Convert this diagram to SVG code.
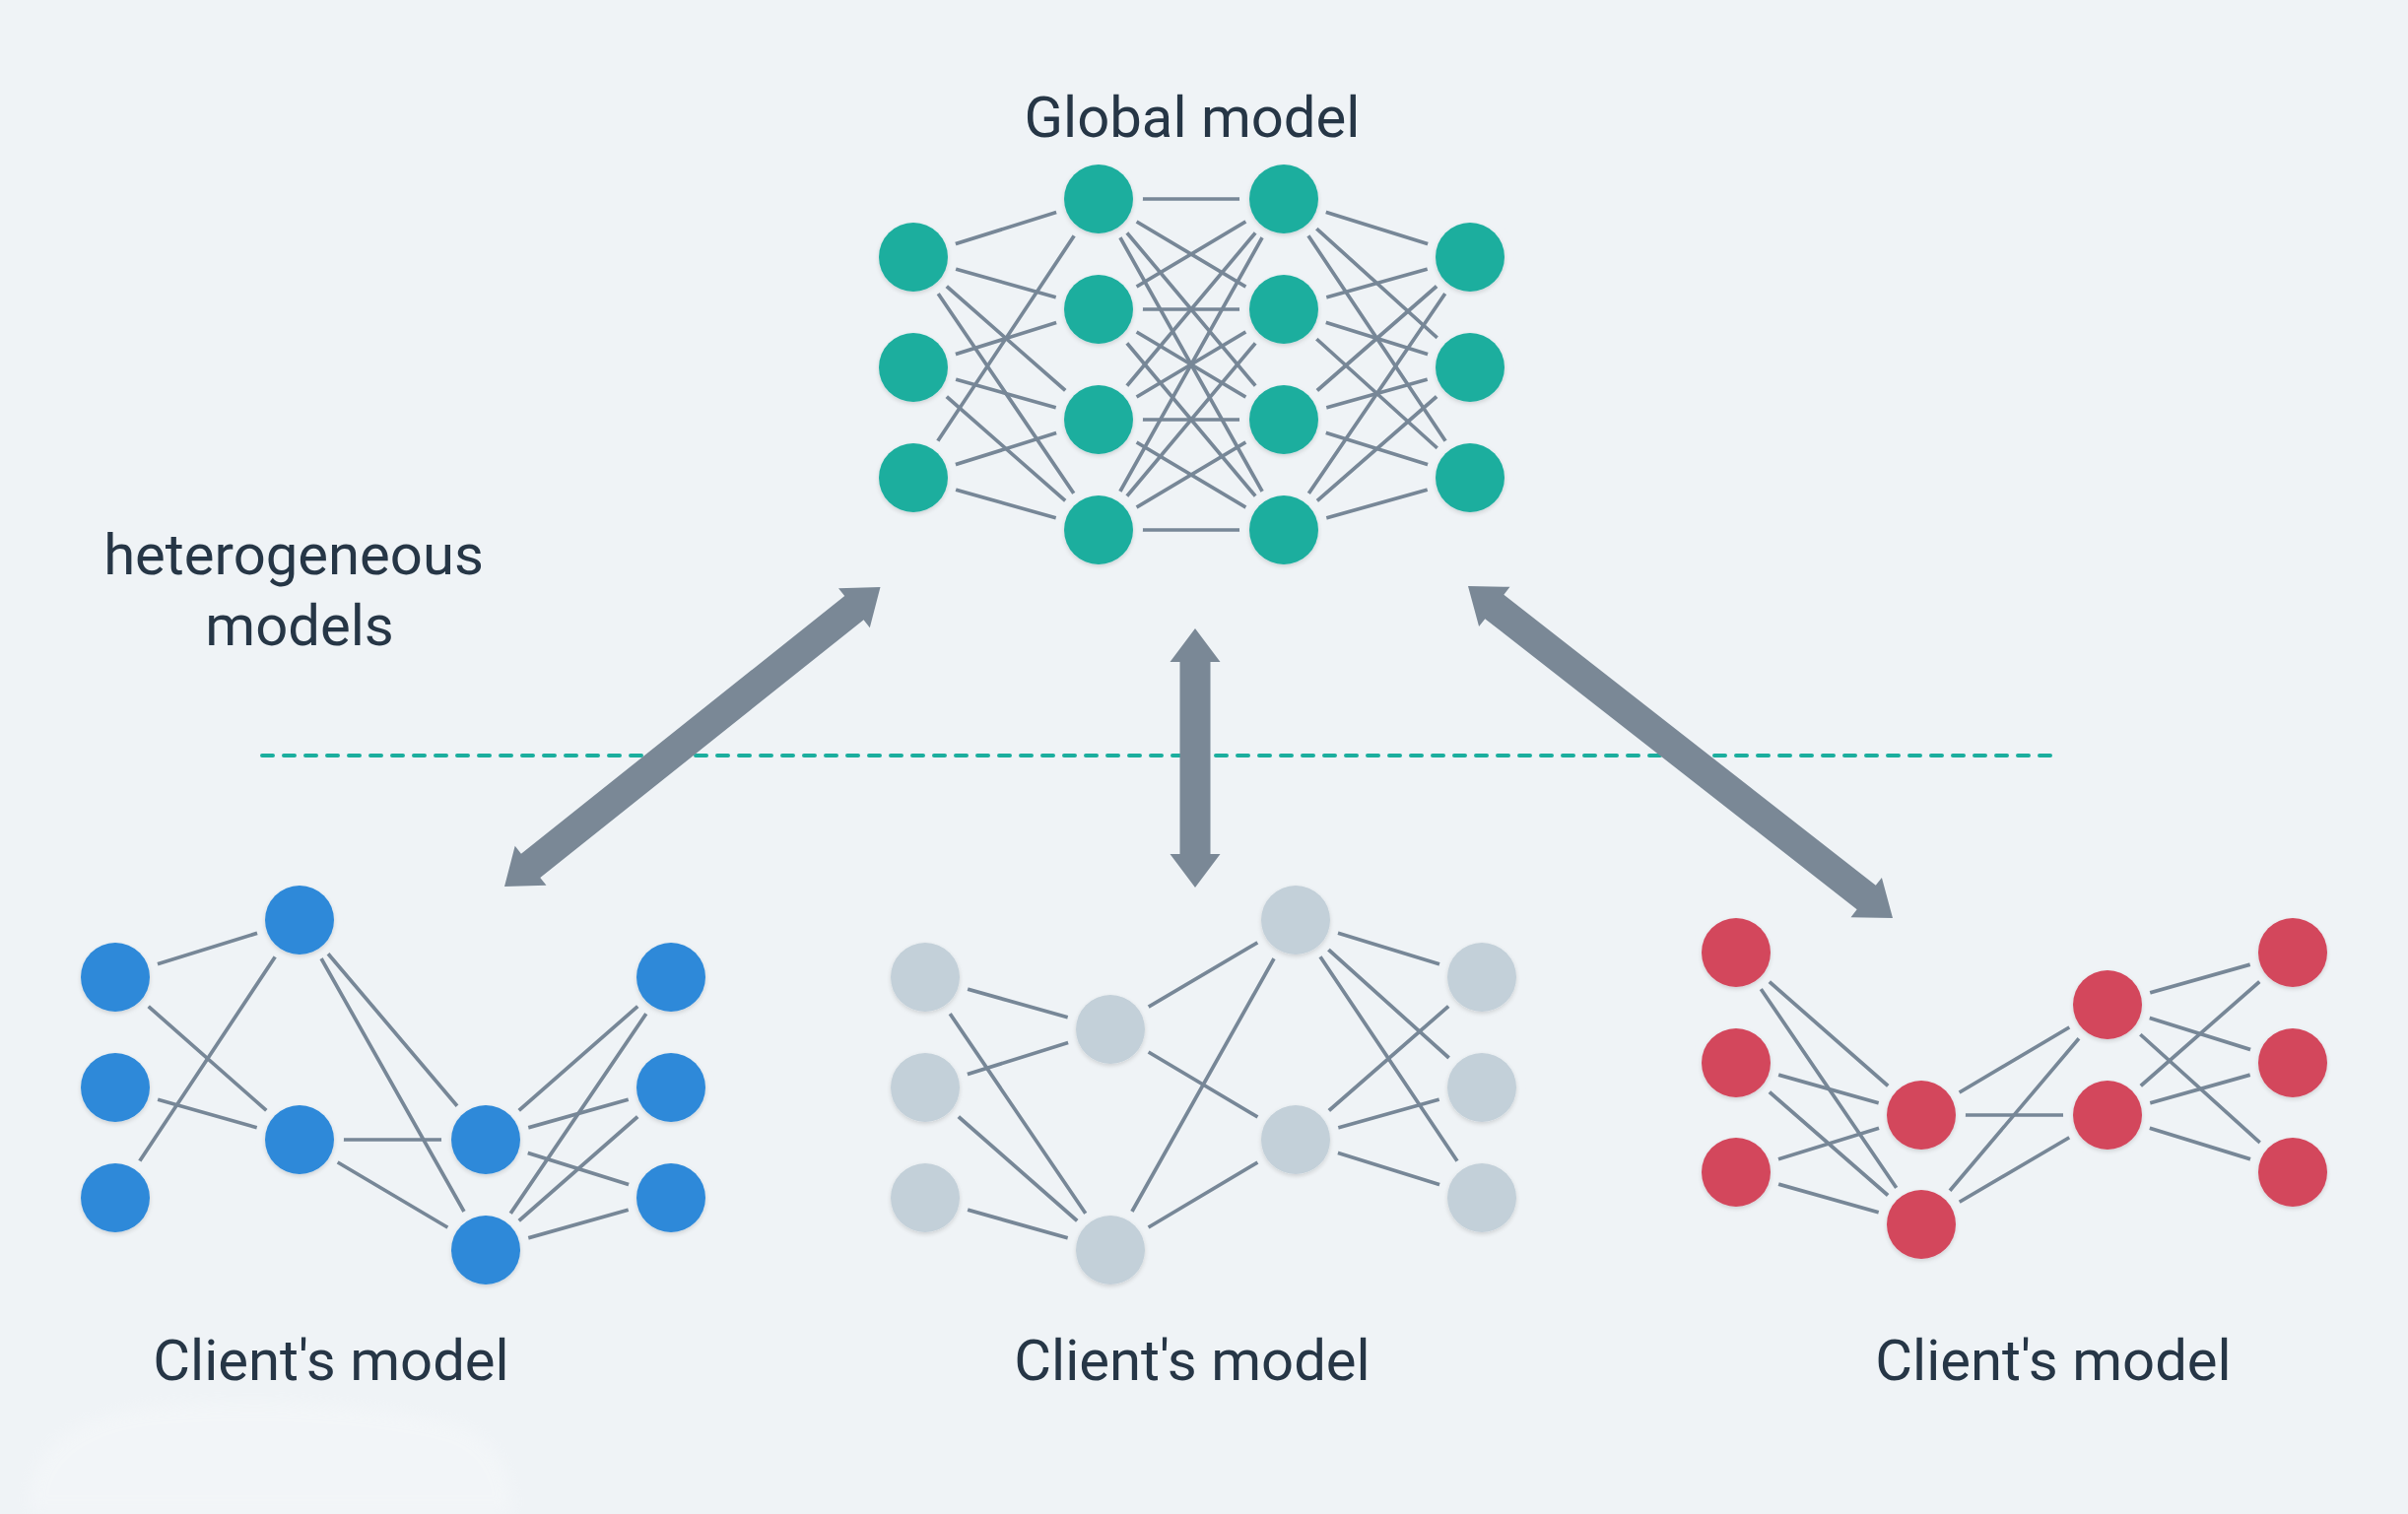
<svg xmlns="http://www.w3.org/2000/svg" xmlns:xlink="http://www.w3.org/1999/xlink" width="2444" height="1537" viewBox="0 0 2444 1537">
<defs>
<style>
.bg{fill:#eff3f6}
.e{stroke:#778797;stroke-width:3.7;stroke-linecap:round;fill:none}
.halo{fill:#eff3f6}
.n{filter:url(#sh)}
.teal{fill:#1bae9e}
.blue{fill:#2d89d9}
.grey{fill:#c3d0d9}
.red{fill:#d3465c}
.arrow{fill:#7a8896}
.lbl{font-family:Roboto,"Liberation Sans",sans-serif;font-size:58px;fill:#263646;text-anchor:middle}
.dash{stroke:#1bae9e;stroke-width:4;stroke-dasharray:11 11;stroke-linecap:round;fill:none}
</style>
<filter id="sh" x="-30%" y="-30%" width="160%" height="160%">
<feDropShadow dx="0" dy="2" stdDeviation="2" flood-color="#000" flood-opacity="0.14"/>
</filter>
<filter id="blur" x="-20%" y="-50%" width="140%" height="200%">
<feGaussianBlur stdDeviation="8"/>
</filter>
</defs>
<rect class="bg" x="0" y="0" width="2444" height="1537"/>
<path d="M30,1537 C25,1480 60,1440 150,1428 C260,1418 380,1425 460,1445 C510,1460 520,1500 520,1537 Z" fill="#ffffff" opacity="0.22" filter="url(#blur)"/>

<g id="labels">
<text class="lbl" x="1210" y="139">Global model</text>
<text class="lbl" x="298" y="583">heterogeneous</text>
<text class="lbl" x="304" y="655">models</text>
<text class="lbl" x="336" y="1401">Client's model</text>
<text class="lbl" x="1210" y="1401">Client's model</text>
<text class="lbl" x="2084" y="1401">Client's model</text>
</g>

<line id="divider" class="dash" x1="266" y1="767" x2="2085" y2="767"/>

<g id="connectors">
<g class="e">
<!-- global model: col1-col2 -->
<line x1="927" y1="261" x2="1115" y2="202"/>
<line x1="927" y1="261" x2="1115" y2="314"/>
<line x1="927" y1="261" x2="1115" y2="426"/>
<line x1="927" y1="261" x2="1115" y2="538"/>
<line x1="927" y1="373" x2="1115" y2="314"/>
<line x1="927" y1="373" x2="1115" y2="426"/>
<line x1="927" y1="373" x2="1115" y2="538"/>
<line x1="927" y1="485" x2="1115" y2="202"/>
<line x1="927" y1="485" x2="1115" y2="426"/>
<line x1="927" y1="485" x2="1115" y2="538"/>
<!-- col2-col3 -->
<line x1="1115" y1="202" x2="1303" y2="202"/>
<line x1="1115" y1="202" x2="1303" y2="314"/>
<line x1="1115" y1="202" x2="1303" y2="426"/>
<line x1="1115" y1="202" x2="1303" y2="538"/>
<line x1="1115" y1="314" x2="1303" y2="202"/>
<line x1="1115" y1="314" x2="1303" y2="314"/>
<line x1="1115" y1="314" x2="1303" y2="426"/>
<line x1="1115" y1="314" x2="1303" y2="538"/>
<line x1="1115" y1="426" x2="1303" y2="202"/>
<line x1="1115" y1="426" x2="1303" y2="314"/>
<line x1="1115" y1="426" x2="1303" y2="426"/>
<line x1="1115" y1="426" x2="1303" y2="538"/>
<line x1="1115" y1="538" x2="1303" y2="202"/>
<line x1="1115" y1="538" x2="1303" y2="314"/>
<line x1="1115" y1="538" x2="1303" y2="426"/>
<line x1="1115" y1="538" x2="1303" y2="538"/>
<!-- col3-col4 -->
<line x1="1303" y1="202" x2="1492" y2="261"/>
<line x1="1303" y1="202" x2="1492" y2="373"/>
<line x1="1303" y1="202" x2="1492" y2="485"/>
<line x1="1303" y1="314" x2="1492" y2="261"/>
<line x1="1303" y1="314" x2="1492" y2="373"/>
<line x1="1303" y1="314" x2="1492" y2="485"/>
<line x1="1303" y1="426" x2="1492" y2="261"/>
<line x1="1303" y1="426" x2="1492" y2="373"/>
<line x1="1303" y1="426" x2="1492" y2="485"/>
<line x1="1303" y1="538" x2="1492" y2="261"/>
<line x1="1303" y1="538" x2="1492" y2="373"/>
<line x1="1303" y1="538" x2="1492" y2="485"/>

<!-- blue client -->
<line x1="117" y1="992" x2="304" y2="934"/>
<line x1="117" y1="992" x2="304" y2="1157"/>
<line x1="117" y1="1104" x2="304" y2="1157"/>
<line x1="117" y1="1216" x2="304" y2="934"/>
<line x1="304" y1="934" x2="493" y2="1157"/>
<line x1="304" y1="934" x2="493" y2="1269"/>
<line x1="304" y1="1157" x2="493" y2="1157"/>
<line x1="304" y1="1157" x2="493" y2="1269"/>
<line x1="493" y1="1157" x2="681" y2="992"/>
<line x1="493" y1="1157" x2="681" y2="1104"/>
<line x1="493" y1="1157" x2="681" y2="1216"/>
<line x1="493" y1="1269" x2="681" y2="992"/>
<line x1="493" y1="1269" x2="681" y2="1104"/>
<line x1="493" y1="1269" x2="681" y2="1216"/>

<!-- grey client -->
<line x1="939" y1="992" x2="1127" y2="1045"/>
<line x1="939" y1="992" x2="1127" y2="1269"/>
<line x1="939" y1="1104" x2="1127" y2="1045"/>
<line x1="939" y1="1104" x2="1127" y2="1269"/>
<line x1="939" y1="1216" x2="1127" y2="1269"/>
<line x1="1127" y1="1045" x2="1315" y2="934"/>
<line x1="1127" y1="1045" x2="1315" y2="1157"/>
<line x1="1127" y1="1269" x2="1315" y2="934"/>
<line x1="1127" y1="1269" x2="1315" y2="1157"/>
<line x1="1315" y1="934" x2="1504" y2="992"/>
<line x1="1315" y1="934" x2="1504" y2="1104"/>
<line x1="1315" y1="934" x2="1504" y2="1216"/>
<line x1="1315" y1="1157" x2="1504" y2="992"/>
<line x1="1315" y1="1157" x2="1504" y2="1104"/>
<line x1="1315" y1="1157" x2="1504" y2="1216"/>

<!-- red client -->
<line x1="1762" y1="967" x2="1950" y2="1132"/>
<line x1="1762" y1="967" x2="1950" y2="1243"/>
<line x1="1762" y1="1079" x2="1950" y2="1132"/>
<line x1="1762" y1="1079" x2="1950" y2="1243"/>
<line x1="1762" y1="1190" x2="1950" y2="1132"/>
<line x1="1762" y1="1190" x2="1950" y2="1243"/>
<line x1="1950" y1="1132" x2="2139" y2="1020"/>
<line x1="1950" y1="1132" x2="2139" y2="1132"/>
<line x1="1950" y1="1243" x2="2139" y2="1020"/>
<line x1="1950" y1="1243" x2="2139" y2="1132"/>
<line x1="2139" y1="1020" x2="2327" y2="967"/>
<line x1="2139" y1="1020" x2="2327" y2="1079"/>
<line x1="2139" y1="1020" x2="2327" y2="1190"/>
<line x1="2139" y1="1132" x2="2327" y2="967"/>
<line x1="2139" y1="1132" x2="2327" y2="1079"/>
<line x1="2139" y1="1132" x2="2327" y2="1190"/>
</g>

<!-- exchange arrows -->
<polygon class="arrow" transform="translate(702.75,748) rotate(-38.55)" points="243.9,0 209.9,-25.5 209.9,-15.5 -209.9,-15.5 -209.9,-25.5 -243.9,0 -209.9,25.5 -209.9,15.5 209.9,15.5 209.9,25.5"/>
<polygon class="arrow" points="1213,638 1238.5,672 1228.5,672 1228.5,867 1238.5,867 1213,901 1187.5,867 1197.5,867 1197.5,672 1187.5,672"/>
<polygon class="arrow" transform="translate(1705.5,763.5) rotate(38.02)" points="273.55,0 239.55,-25.5 239.55,-15.5 -239.55,-15.5 -239.55,-25.5 -273.55,0 -239.55,25.5 -239.55,15.5 239.55,15.5 239.55,25.5"/>
</g>

<!-- global model nodes -->
<g id="g-1-1"><circle class="halo" cx="927" cy="261" r="45"/><circle class="n teal" cx="927" cy="261" r="35"/></g>
<g id="g-1-2"><circle class="halo" cx="927" cy="373" r="45"/><circle class="n teal" cx="927" cy="373" r="35"/></g>
<g id="g-1-3"><circle class="halo" cx="927" cy="485" r="45"/><circle class="n teal" cx="927" cy="485" r="35"/></g>
<g id="g-2-1"><circle class="halo" cx="1115" cy="202" r="45"/><circle class="n teal" cx="1115" cy="202" r="35"/></g>
<g id="g-2-2"><circle class="halo" cx="1115" cy="314" r="45"/><circle class="n teal" cx="1115" cy="314" r="35"/></g>
<g id="g-2-3"><circle class="halo" cx="1115" cy="426" r="45"/><circle class="n teal" cx="1115" cy="426" r="35"/></g>
<g id="g-2-4"><circle class="halo" cx="1115" cy="538" r="45"/><circle class="n teal" cx="1115" cy="538" r="35"/></g>
<g id="g-3-1"><circle class="halo" cx="1303" cy="202" r="45"/><circle class="n teal" cx="1303" cy="202" r="35"/></g>
<g id="g-3-2"><circle class="halo" cx="1303" cy="314" r="45"/><circle class="n teal" cx="1303" cy="314" r="35"/></g>
<g id="g-3-3"><circle class="halo" cx="1303" cy="426" r="45"/><circle class="n teal" cx="1303" cy="426" r="35"/></g>
<g id="g-3-4"><circle class="halo" cx="1303" cy="538" r="45"/><circle class="n teal" cx="1303" cy="538" r="35"/></g>
<g id="g-4-1"><circle class="halo" cx="1492" cy="261" r="45"/><circle class="n teal" cx="1492" cy="261" r="35"/></g>
<g id="g-4-2"><circle class="halo" cx="1492" cy="373" r="45"/><circle class="n teal" cx="1492" cy="373" r="35"/></g>
<g id="g-4-3"><circle class="halo" cx="1492" cy="485" r="45"/><circle class="n teal" cx="1492" cy="485" r="35"/></g>

<!-- blue client nodes -->
<g id="b-1-1"><circle class="halo" cx="117" cy="992" r="45"/><circle class="n blue" cx="117" cy="992" r="35"/></g>
<g id="b-1-2"><circle class="halo" cx="117" cy="1104" r="45"/><circle class="n blue" cx="117" cy="1104" r="35"/></g>
<g id="b-1-3"><circle class="halo" cx="117" cy="1216" r="45"/><circle class="n blue" cx="117" cy="1216" r="35"/></g>
<g id="b-2-1"><circle class="halo" cx="304" cy="934" r="45"/><circle class="n blue" cx="304" cy="934" r="35"/></g>
<g id="b-2-2"><circle class="halo" cx="304" cy="1157" r="45"/><circle class="n blue" cx="304" cy="1157" r="35"/></g>
<g id="b-3-1"><circle class="halo" cx="493" cy="1157" r="45"/><circle class="n blue" cx="493" cy="1157" r="35"/></g>
<g id="b-3-2"><circle class="halo" cx="493" cy="1269" r="45"/><circle class="n blue" cx="493" cy="1269" r="35"/></g>
<g id="b-4-1"><circle class="halo" cx="681" cy="992" r="45"/><circle class="n blue" cx="681" cy="992" r="35"/></g>
<g id="b-4-2"><circle class="halo" cx="681" cy="1104" r="45"/><circle class="n blue" cx="681" cy="1104" r="35"/></g>
<g id="b-4-3"><circle class="halo" cx="681" cy="1216" r="45"/><circle class="n blue" cx="681" cy="1216" r="35"/></g>

<!-- grey client nodes -->
<g id="s-1-1"><circle class="halo" cx="939" cy="992" r="45"/><circle class="n grey" cx="939" cy="992" r="35"/></g>
<g id="s-1-2"><circle class="halo" cx="939" cy="1104" r="45"/><circle class="n grey" cx="939" cy="1104" r="35"/></g>
<g id="s-1-3"><circle class="halo" cx="939" cy="1216" r="45"/><circle class="n grey" cx="939" cy="1216" r="35"/></g>
<g id="s-2-1"><circle class="halo" cx="1127" cy="1045" r="45"/><circle class="n grey" cx="1127" cy="1045" r="35"/></g>
<g id="s-2-2"><circle class="halo" cx="1127" cy="1269" r="45"/><circle class="n grey" cx="1127" cy="1269" r="35"/></g>
<g id="s-3-1"><circle class="halo" cx="1315" cy="934" r="45"/><circle class="n grey" cx="1315" cy="934" r="35"/></g>
<g id="s-3-2"><circle class="halo" cx="1315" cy="1157" r="45"/><circle class="n grey" cx="1315" cy="1157" r="35"/></g>
<g id="s-4-1"><circle class="halo" cx="1504" cy="992" r="45"/><circle class="n grey" cx="1504" cy="992" r="35"/></g>
<g id="s-4-2"><circle class="halo" cx="1504" cy="1104" r="45"/><circle class="n grey" cx="1504" cy="1104" r="35"/></g>
<g id="s-4-3"><circle class="halo" cx="1504" cy="1216" r="45"/><circle class="n grey" cx="1504" cy="1216" r="35"/></g>

<!-- red client nodes -->
<g id="r-1-1"><circle class="halo" cx="1762" cy="967" r="45"/><circle class="n red" cx="1762" cy="967" r="35"/></g>
<g id="r-1-2"><circle class="halo" cx="1762" cy="1079" r="45"/><circle class="n red" cx="1762" cy="1079" r="35"/></g>
<g id="r-1-3"><circle class="halo" cx="1762" cy="1190" r="45"/><circle class="n red" cx="1762" cy="1190" r="35"/></g>
<g id="r-2-1"><circle class="halo" cx="1950" cy="1132" r="45"/><circle class="n red" cx="1950" cy="1132" r="35"/></g>
<g id="r-2-2"><circle class="halo" cx="1950" cy="1243" r="45"/><circle class="n red" cx="1950" cy="1243" r="35"/></g>
<g id="r-3-1"><circle class="halo" cx="2139" cy="1020" r="45"/><circle class="n red" cx="2139" cy="1020" r="35"/></g>
<g id="r-3-2"><circle class="halo" cx="2139" cy="1132" r="45"/><circle class="n red" cx="2139" cy="1132" r="35"/></g>
<g id="r-4-1"><circle class="halo" cx="2327" cy="967" r="45"/><circle class="n red" cx="2327" cy="967" r="35"/></g>
<g id="r-4-2"><circle class="halo" cx="2327" cy="1079" r="45"/><circle class="n red" cx="2327" cy="1079" r="35"/></g>
<g id="r-4-3"><circle class="halo" cx="2327" cy="1190" r="45"/><circle class="n red" cx="2327" cy="1190" r="35"/></g>
</svg>
